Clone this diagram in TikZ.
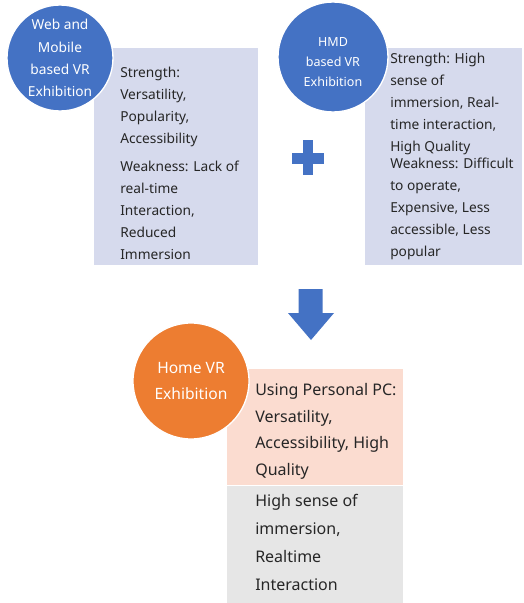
\documentclass[tikz,border=0pt]{standalone}
\usepackage{fontspec}
\setmainfont{Noto Sans}
\usetikzlibrary{positioning}
\definecolor{hblue}{HTML}{4472C4}
\definecolor{horange}{HTML}{ED7D31}
\definecolor{hlav}{HTML}{D6DAED}
\definecolor{hpeach}{HTML}{FBDCD0}
\definecolor{hgray}{HTML}{E6E6E6}
\definecolor{htext}{HTML}{262626}

\begin{document}
\begin{tikzpicture}[x=0.75pt,y=-0.75pt,
  panel/.style={anchor=north west,inner sep=0pt,draw=none},
  disc/.style={circle,draw=white,line width=1pt,inner sep=0pt},
  disctxt/.style={text=white,align=center,inner sep=0pt,
                  font=\fontsize{10.3}{16.7}\selectfont},
  txt/.style={anchor=north west,align=left,inner sep=0pt,text=htext,
              font=\fontsize{10.3}{16.5}\selectfont},
  bigtxt/.style={txt,font=\fontsize{12}{19.8}\selectfont}]
  \useasboundingbox[fill=white] (0,0) rectangle (524,603);

  % two existing exhibition types
  \node[panel,fill=hlav,minimum width=123pt,minimum height=162.75pt] (lbox) at (94,48) {};
  \node[panel,fill=hlav,minimum width=117.75pt,minimum height=162.75pt] (rbox) at (365,48) {};
  \node[txt] (lstr) at (120,66.5) {Strength:\\Versatility,\\Popularity,\\Accessibility};
  \node[txt] (lweak) at (120,160.5) {Weakness: Lack of\\real-time\\Interaction,\\Reduced\\Immersion};
  \node[txt] (rstr) at (390,52.5) {Strength: High\\sense of\\immersion, Real-\\time interaction,\\High Quality};
  \node[txt] (rweak) at (390,157.5) {Weakness: Difficult\\to operate,\\Expensive, Less\\accessible, Less\\popular};
  \node[disc,fill=hblue,minimum size=79.5pt] (lcirc) at (60,58) {};
  \node[disctxt] at (lcirc) {Web and\\Mobile\\based VR\\Exhibition};
  \node[disc,fill=hblue,minimum size=82.5pt] (rcirc) at (333,57) {};
  \node[disctxt,font=\fontsize{9.4}{15}\selectfont] at ([yshift=-3.75pt]rcirc.center) {HMD\\based VR\\Exhibition};

  % plus sign
  \fill[hblue] (291.7,152.7) rectangle (324.3,164.3);
  \fill[hblue] (302.7,140) rectangle (313.3,175);

  % down arrow
  \fill[hblue] (298.5,289) -- (322.5,289) -- (322.5,313) -- (334,313)
     -- (311,340) -- (288,313) -- (298.5,313) -- cycle;

  % combined result
  \node[panel,fill=hpeach,minimum width=132pt,minimum height=87pt] (pbox) at (227,369) {};
  \node[panel,fill=hgray,minimum width=132pt,minimum height=88.5pt,below=0pt of pbox] (gbox) {};
  \node[bigtxt] (ptxt) at (255,383.5) {Using Personal PC:\\Versatility,\\Accessibility, High\\Quality};
  \node[bigtxt,font=\fontsize{12}{21.2}\selectfont] (gtxt) at (255,493.5) {High sense of\\immersion,\\Realtime\\Interaction};
  \node[disc,fill=horange,minimum size=87pt] (hcirc) at (191,381) {};
  \node[disctxt,font=\fontsize{11.7}{20}\selectfont] at (hcirc) {Home VR\\Exhibition};
\end{tikzpicture}
\end{document}
